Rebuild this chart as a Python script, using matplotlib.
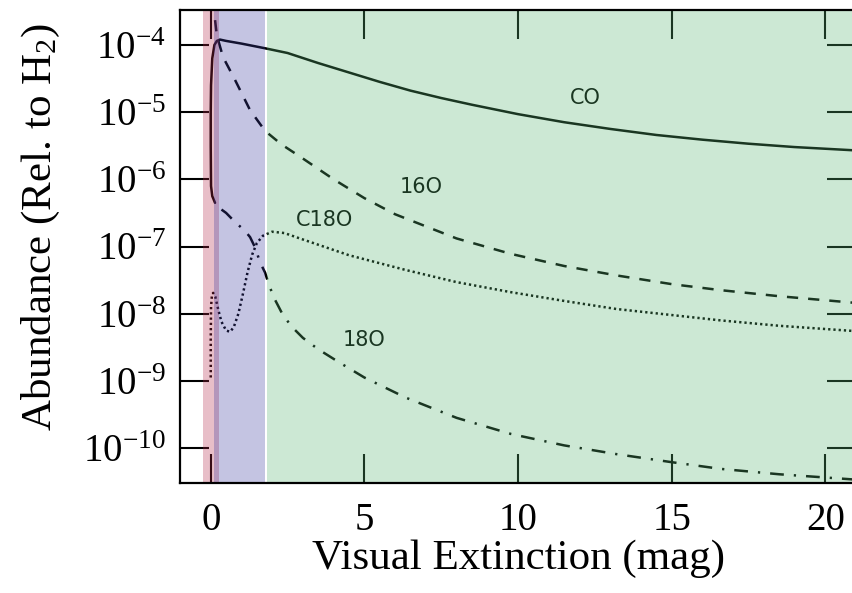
import numpy as np
import matplotlib
matplotlib.use("Agg")
import matplotlib.pyplot as plt

plt.rcParams['font.family'] = ['Liberation Serif', 'DejaVu Serif']
plt.rcParams['mathtext.fontset'] = 'custom'
plt.rcParams['mathtext.rm'] = 'Liberation Serif'
plt.rcParams['mathtext.it'] = 'Liberation Serif:italic'

# abundances as log10(n/nH2) against visual extinction
co_av = [0.14, 0.05, 0.01, 0.0, 0.0, 0.01, 0.05, 0.12, 0.2, 0.3, 0.5, 1.0, 1.77,
         2.5, 3.5, 4.5, 5.5, 6.5, 7.5, 8.5, 10.0, 11.5, 13.0, 14.5, 16.0, 17.5, 19.0, 21.0]
co_log = [-6.35, -6.25, -6.1, -5.5, -5.0, -4.6, -4.2, -4.0, -3.94, -3.92, -3.94, -3.98, -4.05,
          -4.12, -4.27, -4.41, -4.55, -4.68, -4.79, -4.89, -5.03, -5.15, -5.25, -5.34, -5.41,
          -5.47, -5.52, -5.57]

o16_av = [0.05, 0.12, 0.2, 0.4, 0.79, 1.28, 1.77, 2.3, 2.9, 4.0, 5.0, 6.0, 8.0, 9.77,
          11.5, 13.2, 15.0, 16.6, 18.5, 21.0]
o16_log = [-3.2, -3.55, -3.86, -4.18, -4.52, -4.97, -5.28, -5.48, -5.66, -6.0, -6.28, -6.52,
           -6.88, -7.11, -7.29, -7.43, -7.56, -7.65, -7.74, -7.84]

c18o_av = [0.0, 0.0, 0.01, 0.04, 0.08, 0.15, 0.25, 0.35, 0.5, 0.63, 0.75, 0.9, 1.05,
           1.2, 1.35, 1.5, 1.7, 2.0, 2.4, 2.9, 4.5, 6.35, 8.0, 9.77, 11.5, 13.2,
           15.0, 16.6, 18.5, 21.0]
c18o_log = [-8.95, -8.4, -7.9, -7.72, -7.69, -7.75, -7.95, -8.12, -8.25, -8.27, -8.2, -8.0, -7.7,
            -7.38, -7.12, -6.95, -6.84, -6.78, -6.8, -6.88, -7.13, -7.35, -7.53, -7.68, -7.81, -7.93,
            -8.02, -8.1, -8.18, -8.26]

o18_av = [0.35, 0.5, 0.8, 1.1, 1.28, 1.45, 1.6, 1.77, 1.9, 2.1, 2.35, 2.65, 3.0, 3.5, 4.2, 5.0,
          6.35, 8.0, 9.77, 11.5, 13.2, 15.0, 16.6, 18.5, 21.0]
o18_log = [-6.45, -6.5, -6.64, -6.76, -6.86, -7.02, -7.23, -7.39, -7.58, -7.8, -8.02, -8.2,
           -8.36, -8.53, -8.73, -8.95, -9.25, -9.55, -9.79, -9.96, -10.09, -10.21, -10.31,
           -10.39, -10.47]

# curve labels: text, x, log10 y
label_names = ['CO', '16O', 'C18O', '18O']
label_av = [12.2, 6.85, 3.69, 4.99]
label_log = [-4.79, -6.12, -6.61, -8.39]

# extinction zones
zone_edges = [(-0.25, 0.27), (0.12, 1.77), (1.83, 21.5)]
zone_colors = ['#b4284a', '#3c3ca0', '#57b471']

fig = plt.figure(figsize=(8.52, 5.93), dpi=100)
ax = fig.add_axes([180 / 852, 110 / 593, 676 / 852, 473 / 593])

lw = 1.8
ink = 'black'
ax.plot(co_av, 10 ** np.array(co_log), color=ink, lw=lw, solid_capstyle='round')
ax.plot(o16_av, 10 ** np.array(o16_log), color=ink, lw=lw, dashes=(4.5, 4))
ax.plot(c18o_av, 10 ** np.array(c18o_log), color=ink, lw=lw, dashes=(0.9, 1.2))
ax.plot(o18_av, 10 ** np.array(o18_log), color=ink, lw=lw, dashes=(5.5, 4, 0.9, 4))

for name, xv, yv in zip(label_names, label_av, label_log):
    ax.text(xv, 10 ** yv, name, family='DejaVu Sans', fontsize=15,
            ha='center', va='center', color=ink, zorder=2)

# translucent zones drawn over curves and ticks, below the frame
for (x0, x1), c in zip(zone_edges, zone_colors):
    ax.axvspan(x0, x1, color=c, alpha=0.3, lw=0, zorder=2.2)

ax.set_yscale('log')
ax.set_xlim(-1.0, 21.0)
ax.set_ylim(10 ** -10.52, 10 ** -3.48)

ax.set_xticks([0, 5, 10, 15, 20])
yt = [-4, -5, -6, -7, -8, -9, -10]
ax.set_yticks([10.0 ** e for e in yt])
ax.set_yticklabels([r'$\mathregular{10^{%d}}$' % e for e in yt])
ax.minorticks_off()

ax.tick_params(axis='both', which='major', direction='in', length=21, width=1.5,
               top=True, right=True, labelsize=28)
ax.tick_params(axis='x', pad=14)
ax.tick_params(axis='y', pad=10)
for sp in ax.spines.values():
    sp.set_linewidth(1.6)
    sp.set_zorder(3)

ax.set_xlabel('Visual Extinction (mag)', fontsize=31)
ax.xaxis.set_label_coords(0.5, -0.12)
ax.set_ylabel(r'Abundance (Rel. to H$\mathregular{_2}$)', fontsize=31)
ax.yaxis.set_label_coords(-0.175, 0.542)

fig.savefig('out.png', dpi=100)
